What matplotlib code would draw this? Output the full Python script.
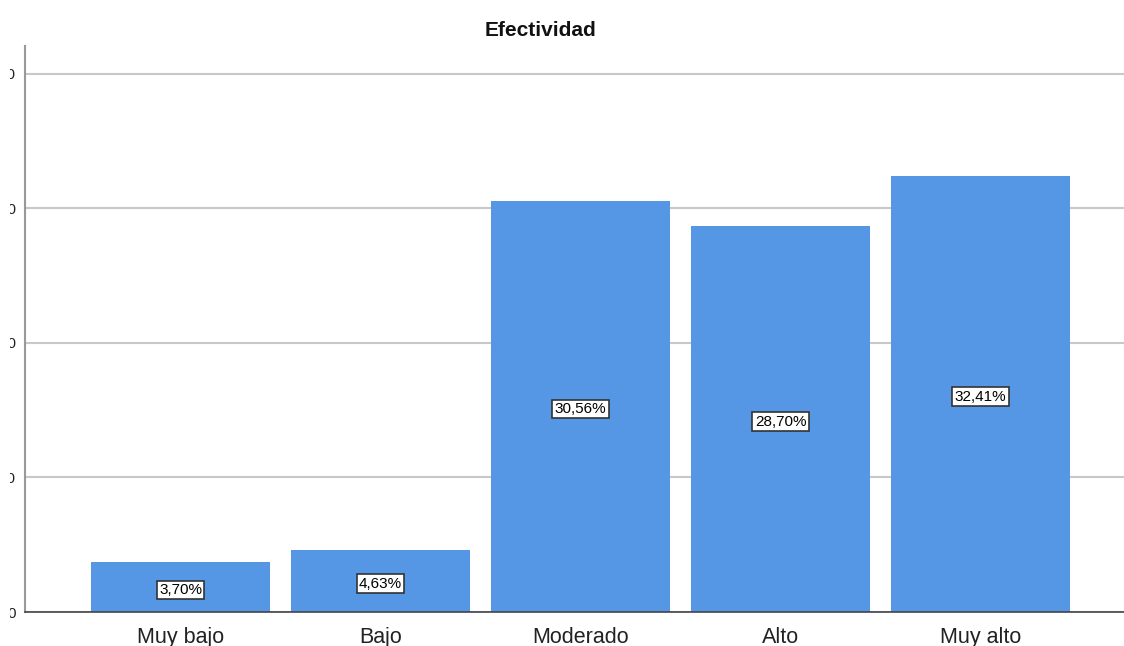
import matplotlib
matplotlib.use("Agg")
import matplotlib.pyplot as plt
from matplotlib.patches import Rectangle

categories = ["Muy bajo", "Bajo", "Moderado", "Alto", "Muy alto"]
values = [3.70, 4.63, 30.56, 28.70, 32.41]
labels = ["3,70%", "4,63%", "30,56%", "28,70%", "32,41%"]
yticks = [0, 10, 20, 30, 40]

plt.rcParams['font.family'] = ['Liberation Sans', 'DejaVu Sans']

W, H = 1124, 646
fig = plt.figure(figsize=(W / 100, H / 100), dpi=100)
ax = fig.add_axes([25 / W, 1 - 612 / H, (1124 - 25) / W, (612 - 46) / H])

x = list(range(len(categories)))
ax.bar(x, values, width=0.895, color="#5596E5", zorder=2)
ax.set_xlim(-0.7775, 4.7175)
ax.set_ylim(0, 42.08)

ax.set_yticks(yticks)
ax.set_yticklabels([str(t) for t in yticks], fontsize=11, color="#222222")
ax.yaxis.grid(True, color="#c8c8c8", linewidth=1.5, zorder=0)
ax.set_axisbelow(True)
ax.tick_params(axis="y", length=0, pad=6.5)
ax.set_xticks(x)
ax.set_xticklabels(categories, fontsize=15.5, color="#222222")
ax.tick_params(axis="x", length=0, pad=10.5)

for s in ["top", "right"]:
    ax.spines[s].set_visible(False)
ax.spines["left"].set_color("#999999")
ax.spines["left"].set_linewidth(1.5)
ax.spines["bottom"].set_color("#444444")
ax.spines["bottom"].set_linewidth(1.2)

for xi, v, lab in zip(x, values, labels):
    ax.text(xi, v / 2 - 0.2, lab, ha="center", va="center", fontsize=11,
            color="#000000", zorder=5,
            bbox=dict(boxstyle="square,pad=0.15", facecolor="white",
                      edgecolor="#333333", linewidth=1.2))

fig.text(541 / W, 1 - 30 / H, "Efectividad", ha="center", va="center",
         fontsize=15, fontweight="bold", color="#111111")

# clip the tick labels at the left edge as in the reference
fig.add_artist(Rectangle((0, 0), 10 / W, 1, transform=fig.transFigure,
                         facecolor="white", edgecolor="none", zorder=10))

fig.savefig("out.png", dpi=100)
